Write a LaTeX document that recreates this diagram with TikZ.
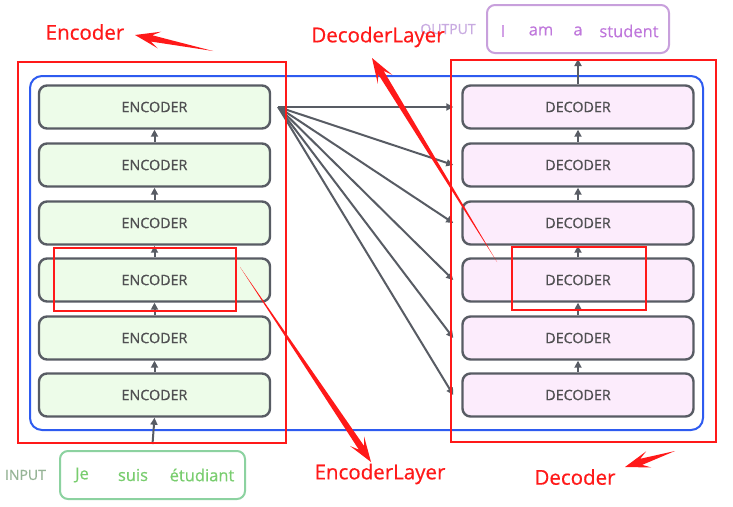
\documentclass[tikz,border=0pt]{standalone}
\usepackage{fontspec}
\setmainfont{Open Sans}
\newfontfamily\boxfont[FakeBold=0.8]{Open Sans}
\newfontfamily\annofont[FakeBold=0.5]{Open Sans}
\usetikzlibrary{calc,arrows.meta}
\definecolor{boxgray}{RGB}{88,92,100}
\definecolor{encfill}{RGB}{237,252,233}
\definecolor{decfill}{RGB}{252,236,252}
\definecolor{frameblue}{RGB}{46,91,240}
\definecolor{annored}{RGB}{255,25,25}
\definecolor{outborder}{RGB}{200,160,220}
\definecolor{outtext}{RGB}{192,120,220}
\definecolor{outlabel}{RGB}{200,170,225}
\definecolor{inborder}{RGB}{140,210,160}
\definecolor{intext}{RGB}{120,205,110}
\definecolor{inlabel}{RGB}{150,180,150}
\definecolor{txtgray}{RGB}{80,80,82}
\tikzset{
  layerbox/.style={draw=boxgray, line width=2.4pt, rounded corners=8pt,
    minimum width=231pt, minimum height=43pt, inner sep=0pt,
    text=txtgray, font=\boxfont\fontsize{14.3}{16}\selectfont},
  encbox/.style={layerbox, fill=encfill},
  decbox/.style={layerbox, fill=decfill},
  flow/.style={draw=boxgray, line width=2pt, -{Triangle[length=7pt,width=7pt]}},
  redframe/.style={draw=annored, line width=2.6pt},
  annolabel/.style={text=annored, font=\annofont\fontsize{20.5}{22}\selectfont, inner sep=0pt},
  wordout/.style={text=outtext, font=\annofont\fontsize{16.5}{18}\selectfont, inner sep=0pt},
  wordin/.style={text=intext, font=\annofont\fontsize{16.5}{18}\selectfont, inner sep=0pt},
  sidelabel/.style={font=\boxfont\fontsize{14}{16}\selectfont, inner sep=0pt},
}
\newcommand{\redarrow}[2]{%
  \path ($(#2)!17pt!(#1)$) coordinate (ra-j) ($(#2)!25pt!(#1)$) coordinate (ra-b);
  \fill[annored] (#1) -- ($(ra-j)!3.2pt!90:(#2)$) -- ($(ra-b)!8.5pt!90:(#2)$) -- (#2)
    -- ($(ra-b)!8.5pt!-90:(#2)$) -- ($(ra-j)!3.2pt!-90:(#2)$) -- cycle;}
\begin{document}
\begin{tikzpicture}[x=1pt,y=-1pt]
\useasboundingbox[fill=white] (0,0) rectangle (733,506);

% blue frame
\draw[frameblue, line width=2pt, rounded corners=12pt] (30,76) rectangle (703,430);

% encoder and decoder stacks (1 = bottom)
\foreach \i/\y in {1/395,2/338,3/280,4/223,5/165,6/107}{
  \node[encbox] (enc\i) at (154.5,\y) {ENCODER};
  \node[decbox] (dec\i) at (578,\y) {DECODER};
}
\foreach \i/\j in {1/2,2/3,3/4,4/5,5/6}{
  \draw[flow] (enc\i.north) -- (enc\j.south);
  \draw[flow] (dec\i.north) -- (dec\j.south);
}

% encoder output to all decoders
\coordinate (src) at ($(enc6.east)+(7,0)$);
\foreach \i in {1,...,6}{
  \draw[flow] (src) -- ($(dec\i.west)+(-8,0)$);
}

% input
\node[draw=inborder, line width=2pt, rounded corners=8pt, minimum width=185pt,
  minimum height=48pt, inner sep=0pt] (inbox) at (152.5,475) {};
\node[wordin] (w-je) at (82,475) {Je};
\node[wordin] (w-suis) at (133,475) {suis};
\node[wordin] (w-etud) at (202,475) {étudiant};
\node[sidelabel, text=inlabel] (inlab) at (25.5,475) {INPUT};
\draw[flow] ($(inbox.north)+(0,-6)$) -- (enc1.south);

% output
\node[draw=outborder, line width=2pt, rounded corners=8pt, minimum width=182pt,
  minimum height=48pt, inner sep=0pt] (outbox) at (578,29) {};
\node[wordout] (o-i) at (503,31) {I};
\node[wordout] (o-am) at (541,31) {am};
\node[wordout] (o-a) at (578,31) {a};
\node[wordout] (o-st) at (629,31) {student};
\node[sidelabel, text=outlabel] (outlab) at (448,29) {OUTPUT};
\draw[flow] (dec6.north) -- ($(outbox.south)+(0,5)$);

% red annotation frames
\draw[redframe] (18,62) rectangle (286,443);
\draw[redframe] (451,60) rectangle (716,442);
\draw[redframe] (54,248) rectangle (236,311);
\draw[redframe] (512,247) rectangle (646,310);

% annotation labels
\node[annolabel] (l-enc) at (85,32) {Encoder};
\node[annolabel] (l-declayer) at (378,37) {DecoderLayer};
\node[annolabel] (l-enclayer) at (380,474) {EncoderLayer};
\node[annolabel] (l-dec) at (575,477) {Decoder};

% annotation arrows
\coordinate (t1) at (213,51);  \coordinate (h1) at (135,35);
\coordinate (t2) at (497,262); \coordinate (h2) at (372,58);
\coordinate (t3) at (240,267); \coordinate (h3) at (371,462);
\coordinate (t4) at (675,451); \coordinate (h4) at (625,467);
\redarrow{t1}{h1}
\redarrow{t2}{h2}
\redarrow{t3}{h3}
\redarrow{t4}{h4}
\end{tikzpicture}
\end{document}
